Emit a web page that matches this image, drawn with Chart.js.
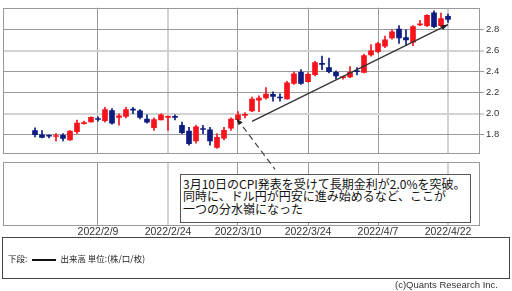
<!DOCTYPE html>
<html><head><meta charset="utf-8">
<script src="https://cdn.jsdelivr.net/npm/chart.js@4/dist/chart.umd.min.js"></script>
<style>
html,body{margin:0;padding:0;background:#fff;}
#wrap{position:relative;width:512px;height:291px;overflow:hidden;background:#fff;}
canvas{position:absolute;left:0;top:0;}
#bottom{z-index:1;} #top{z-index:2;}
#note{position:absolute;z-index:3;left:180px;top:174px;width:291px;height:49px;box-sizing:border-box;border:1px solid #555;background:#fff;
  font-family:"Noto Sans CJK JP";font-size:12px;line-height:12.3px;color:#111;padding:3px 0 0 2px;white-space:nowrap;}
#legend{position:absolute;z-index:3;left:2px;top:237px;width:508px;height:42px;box-sizing:border-box;border:1px solid #444;
  font-family:"Noto Sans CJK JP";font-size:8.5px;line-height:12px;color:#222;padding:14px 0 0 5px;white-space:nowrap;}
#legend .ln{display:inline-block;width:24px;height:2px;background:#111;vertical-align:middle;margin:0 4px 0 5px;}
#copy{position:absolute;z-index:3;right:14px;top:279px;font-family:"Liberation Sans";font-size:9.5px;color:#333;white-space:nowrap;}
</style></head>
<body>
<div id="wrap">
<canvas id="bottom" width="512" height="291"></canvas>
<canvas id="top" width="512" height="291"></canvas>
<div id="note">3月10日のCPI発表を受けて長期金利が2.0%を突破。<br>同時に、ドル円が円安に進み始めるなど、ここが<br>一つの分水嶺になった</div>
<div id="legend">下段:<span class="ln"></span>出来高 単位:(株/口/枚)</div>
<div id="copy">(c)Quants Research Inc.</div>
</div>
<script>
// daily candles 2022/1/27 .. 2022/4/22 (index = trading day)
const openV  = [1.84,1.80,1.79,1.783,1.795,1.75,1.83,1.905,1.922,1.95,1.935,2.03,1.965,1.975,2.04,2.027,1.95,1.868,1.94,1.965,
                1.97,1.89,1.835,1.74,1.855,1.846,1.68,1.767,1.862,1.944,1.985,2.027,2.13,2.15,2.185,2.155,2.142,2.29,2.396,2.305,
                2.372,2.475,2.44,2.395,2.345,2.35,2.405,2.394,2.56,2.592,2.645,2.724,2.806,2.727,2.683,2.848,2.84,2.962,2.84,2.928];
const highV  = [1.865,1.84,1.80,1.81,1.81,1.84,1.94,1.93,1.97,1.97,2.06,2.05,2.00,2.06,2.06,2.04,1.99,1.96,2.00,1.98,
                1.99,1.92,1.87,1.89,1.89,1.87,1.81,1.87,1.96,2.02,2.01,2.16,2.17,2.25,2.21,2.19,2.31,2.40,2.42,2.39,
                2.50,2.55,2.53,2.41,2.36,2.45,2.44,2.57,2.66,2.68,2.74,2.80,2.84,2.80,2.84,2.89,2.945,2.98,2.96,2.95];
const lowV   = [1.78,1.77,1.77,1.74,1.74,1.745,1.81,1.90,1.92,1.93,1.92,1.90,1.89,1.96,2.00,1.95,1.91,1.84,1.94,1.84,
                1.94,1.81,1.70,1.72,1.81,1.70,1.67,1.75,1.84,1.92,1.96,2.02,2.02,2.14,2.12,2.12,2.14,2.28,2.28,2.30,
                2.36,2.42,2.39,2.33,2.33,2.345,2.37,2.39,2.55,2.58,2.63,2.71,2.67,2.65,2.65,2.84,2.83,2.82,2.83,2.87];
const closeV = [1.80,1.775,1.785,1.787,1.765,1.835,1.91,1.915,1.965,1.945,2.04,1.91,1.98,2.04,2.035,1.965,1.92,1.944,1.99,1.97,
                1.965,1.82,1.715,1.875,1.85,1.74,1.775,1.843,1.95,1.99,1.99,2.14,2.15,2.188,2.165,2.15,2.295,2.38,2.29,2.375,
                2.488,2.47,2.40,2.36,2.35,2.395,2.40,2.555,2.60,2.669,2.705,2.78,2.724,2.705,2.83,2.852,2.938,2.83,2.907,2.90];
const volume = [];
const xTickIdx = [9,19,29,39,49,59];
const xTickLabels = ['2022/2/9','2022/2/24','2022/3/10','2022/3/24','2022/4/7','2022/4/22'];
const yTicks = [1.8,2.0,2.2,2.4,2.6,2.8];
const trendFrom = [31,1.928], trendTo = [59,2.85];
const calloutFrom = [28.85,1.95], calloutTo = [34.3,1.47];

const UP='#f5141c', DOWN='#0c1c80';
const cols = openV.map((o,i)=> closeV[i]>=o ? UP : DOWN);
const wickData = openV.map((o,i)=>({x:i, y:[lowV[i],highV[i]]}));
const bodyData = openV.map((o,i)=>({x:i, y:[Math.min(o,closeV[i]),Math.max(o,closeV[i])]}));

const XMIN=-4.57, XMAX=63.57;
const frame = {id:'frame', beforeDatasetsDraw(c,a,o){const {ctx,chartArea:ca}=c;ctx.save();ctx.strokeStyle=o.color||'#999';ctx.lineWidth=1;
  ctx.strokeRect(Math.round(ca.left)+0.5,Math.round(ca.top)+0.5,Math.round(ca.right-ca.left)-1,Math.round(ca.bottom-ca.top));ctx.restore();}};

function arrowHead(ctx,x1,y1,x2,y2,len,w){const a=Math.atan2(y2-y1,x2-x1);ctx.beginPath();ctx.moveTo(x2,y2);
  ctx.lineTo(x2-len*Math.cos(a)+w*Math.sin(a), y2-len*Math.sin(a)-w*Math.cos(a));
  ctx.lineTo(x2-len*Math.cos(a)-w*Math.sin(a), y2-len*Math.sin(a)+w*Math.cos(a));ctx.closePath();ctx.fill();}

const annot = {id:'annot', afterDatasetsDraw(c){const {ctx,scales:{x,y}}=c;ctx.save();
  ctx.strokeStyle='#333';ctx.fillStyle='#222';ctx.lineWidth=1.3;
  const tx1=x.getPixelForValue(trendFrom[0]),ty1=y.getPixelForValue(trendFrom[1]),tx2=x.getPixelForValue(trendTo[0]),ty2=y.getPixelForValue(trendTo[1]);
  ctx.beginPath();ctx.moveTo(tx1,ty1);ctx.lineTo(tx2,ty2);ctx.stroke();arrowHead(ctx,tx1,ty1,tx2,ty2,7,2.5);
  const cx1=x.getPixelForValue(calloutFrom[0]),cy1=y.getPixelForValue(calloutFrom[1]),cx2=x.getPixelForValue(calloutTo[0]),cy2=y.getPixelForValue(calloutTo[1]);
  ctx.strokeStyle='#444';ctx.lineWidth=1.2;ctx.setLineDash([6,4]);ctx.beginPath();ctx.moveTo(cx1,cy1);ctx.lineTo(cx2,cy2);ctx.stroke();
  ctx.setLineDash([]);arrowHead(ctx,cx2,cy2,cx1,cy1,6,2.5);ctx.restore();}};

const lightX = v => (v===19||v===59);
const lightY = v => (Math.abs(v-2.6)<1e-6||Math.abs(v-2.0)<1e-6);
const tickFont = {family:'Liberation Sans', size:9.5};

new Chart(document.getElementById('top'), {
  type:'bar',
  data:{datasets:[
    {data:wickData, backgroundColor:cols, barThickness:1, grouped:false, order:2},
    {data:bodyData, backgroundColor:cols, barThickness:5, grouped:false, minBarLength:1, order:1}
  ]},
  options:{animation:false, responsive:false, devicePixelRatio:1,
    layout:{padding:{left:3,top:1,right:0,bottom:138}},
    plugins:{legend:{display:false}, tooltip:{enabled:false}, frame:{color:'#999'}},
    scales:{
      x:{type:'linear', min:XMIN, max:XMAX, offset:false,
         afterBuildTicks:s=>{s.ticks=xTickIdx.map(v=>({value:v}));}, afterFit:s=>{s.height=0;},
         ticks:{display:false},
         grid:{offset:false, drawTicks:false, color:c=>lightX(c.tick.value)?'#d2d2d2':'#9a9a9a', lineWidth:c=>lightX(c.tick.value)?2:1},
         border:{display:false}},
      y:{position:'right', min:1.6257, max:3.011,
         afterBuildTicks:s=>{s.ticks=yTicks.map(v=>({value:v}));}, afterFit:s=>{s.width=32;},
         ticks:{callback:v=>v.toFixed(1), font:tickFont, color:'#333', padding:2},
         grid:{tickLength:4, color:c=>lightY(c.tick.value)?'#d2d2d2':'#9a9a9a', lineWidth:c=>lightY(c.tick.value)?2:1},
         border:{display:false}}
    }},
  plugins:[frame, annot]
});

new Chart(document.getElementById('bottom'), {
  type:'bar',
  data:{datasets:[{data:volume, backgroundColor:'#333'}]},
  options:{animation:false, responsive:false, devicePixelRatio:1,
    layout:{padding:{left:3,top:162,right:0,bottom:54}},
    plugins:{legend:{display:false}, tooltip:{enabled:false}, frame:{color:'#999'}},
    scales:{
      x:{type:'linear', min:XMIN, max:XMAX, offset:false,
         afterBuildTicks:s=>{s.ticks=xTickIdx.map(v=>({value:v}));}, afterFit:s=>{s.height=12;},
         ticks:{callback:v=>xTickLabels[xTickIdx.indexOf(v)], font:{family:'Liberation Sans', size:10.5}, color:'#333', padding:1, maxRotation:0, autoSkip:false},
         grid:{offset:false, drawTicks:false, color:c=>lightX(c.tick.value)?'#d2d2d2':'#9a9a9a', lineWidth:c=>lightX(c.tick.value)?2:1},
         border:{display:false}},
      y:{position:'right', min:0, max:1, afterFit:s=>{s.width=32;}, ticks:{display:false}, grid:{display:false}, border:{display:false}}
    }},
  plugins:[frame]
});
</script>
</body></html>
